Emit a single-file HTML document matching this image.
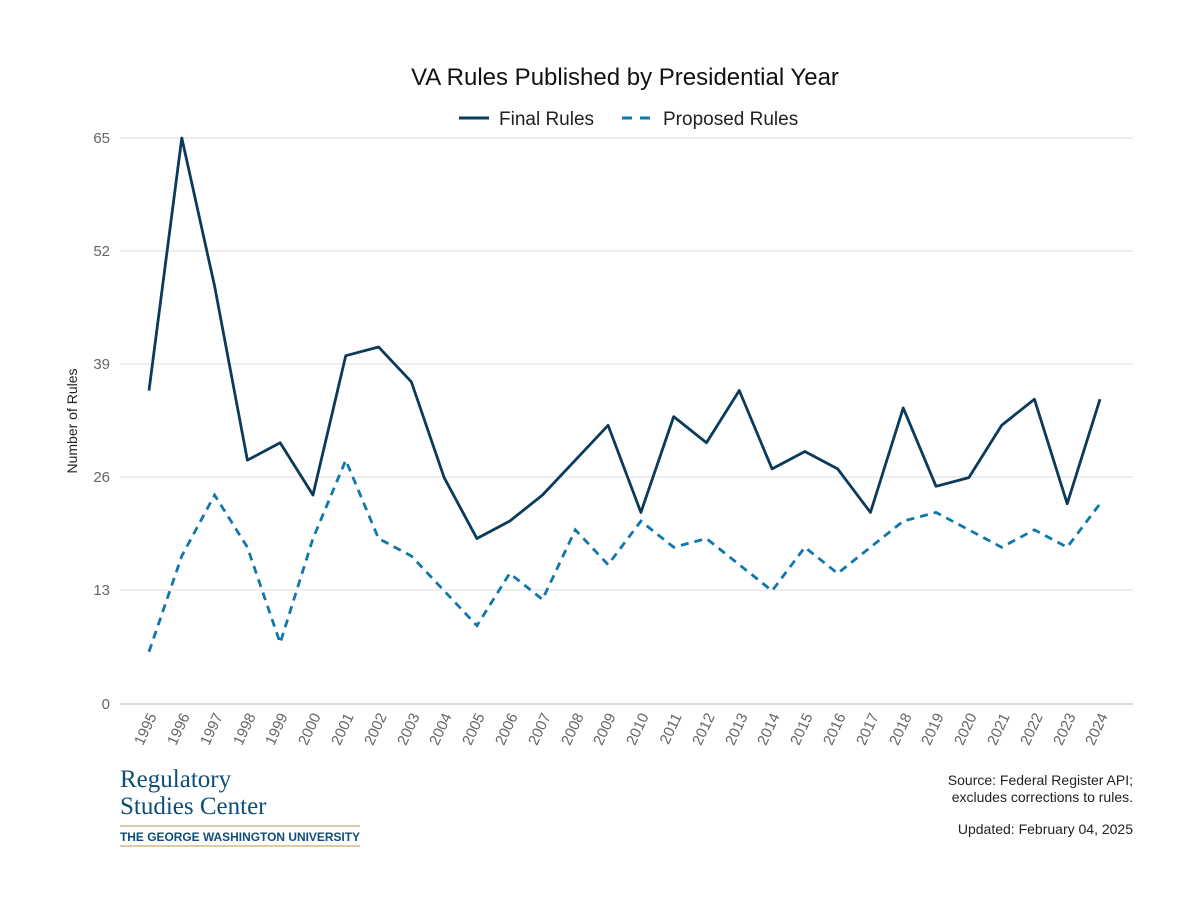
<!DOCTYPE html>
<html><head><meta charset="utf-8"><style>
body{margin:0;background:#fff;width:1200px;height:900px;overflow:hidden;font-family:"Liberation Sans",sans-serif}
</style></head><body>
<svg width="1200" height="900" xmlns="http://www.w3.org/2000/svg" font-family="Liberation Sans, sans-serif">
<text x="625" y="85" text-anchor="middle" font-size="24" fill="#111">VA Rules Published by Presidential Year</text>
<line x1="459" y1="118" x2="489" y2="118" stroke="#0b3a5b" stroke-width="3"/>
<text x="499" y="125" font-size="19" fill="#222">Final Rules</text>
<line x1="622" y1="118" x2="652" y2="118" stroke="#1077ad" stroke-width="3" stroke-dasharray="10,8"/>
<text x="663" y="125" font-size="19" fill="#222">Proposed Rules</text>
<g stroke="#dcdcdc" stroke-width="1">
<line x1="120" y1="138" x2="1133" y2="138"/><line x1="120" y1="251" x2="1133" y2="251"/>
<line x1="120" y1="364" x2="1133" y2="364"/><line x1="120" y1="477" x2="1133" y2="477"/>
<line x1="120" y1="590" x2="1133" y2="590"/><line x1="120" y1="704" x2="1133" y2="704" stroke-width="2"/>
</g>
<g font-size="15" fill="#666" text-anchor="end">
<text x="110" y="143">65</text><text x="110" y="256">52</text><text x="110" y="369">39</text>
<text x="110" y="482">26</text><text x="110" y="595">13</text><text x="110" y="709">0</text>
</g>
<text transform="translate(77,421) rotate(-90)" text-anchor="middle" font-size="14" fill="#222">Number of Rules</text>
<g transform="translate(149,704) scale(32.793,-8.708)" fill="none">
<polyline vector-effect="non-scaling-stroke" stroke="#0b3a5b" stroke-width="2.8" stroke-linejoin="round" points="0,36 1,65 2,48 3,28 4,30 5,24 6,40 7,41 8,37 9,26 10,19 11,21 12,24 13,28 14,32 15,22 16,33 17,30 18,36 19,27 20,29 21,27 22,22 23,34 24,25 25,26 26,32 27,35 28,23 29,35"/>
<polyline vector-effect="non-scaling-stroke" stroke="#1077ad" stroke-width="2.8" stroke-dasharray="8,6" points="0,6 1,17 2,24 3,18 4,7 5,19 6,28 7,19 8,17 9,13 10,9 11,15 12,12 13,20 14,16 15,21 16,18 17,19 18,16 19,13 20,18 21,15 22,18 23,21 24,22 25,20 26,18 27,20 28,18 29,23"/>
</g>
<g font-size="15" fill="#666" text-anchor="end">
<text transform="translate(157,716) rotate(-65)">1995</text>
<text transform="translate(190,716) rotate(-65)">1996</text>
<text transform="translate(223,716) rotate(-65)">1997</text>
<text transform="translate(256,716) rotate(-65)">1998</text>
<text transform="translate(288,716) rotate(-65)">1999</text>
<text transform="translate(321,716) rotate(-65)">2000</text>
<text transform="translate(354,716) rotate(-65)">2001</text>
<text transform="translate(387,716) rotate(-65)">2002</text>
<text transform="translate(420,716) rotate(-65)">2003</text>
<text transform="translate(452,716) rotate(-65)">2004</text>
<text transform="translate(485,716) rotate(-65)">2005</text>
<text transform="translate(518,716) rotate(-65)">2006</text>
<text transform="translate(551,716) rotate(-65)">2007</text>
<text transform="translate(584,716) rotate(-65)">2008</text>
<text transform="translate(616,716) rotate(-65)">2009</text>
<text transform="translate(649,716) rotate(-65)">2010</text>
<text transform="translate(682,716) rotate(-65)">2011</text>
<text transform="translate(715,716) rotate(-65)">2012</text>
<text transform="translate(748,716) rotate(-65)">2013</text>
<text transform="translate(780,716) rotate(-65)">2014</text>
<text transform="translate(813,716) rotate(-65)">2015</text>
<text transform="translate(846,716) rotate(-65)">2016</text>
<text transform="translate(879,716) rotate(-65)">2017</text>
<text transform="translate(912,716) rotate(-65)">2018</text>
<text transform="translate(944,716) rotate(-65)">2019</text>
<text transform="translate(977,716) rotate(-65)">2020</text>
<text transform="translate(1010,716) rotate(-65)">2021</text>
<text transform="translate(1043,716) rotate(-65)">2022</text>
<text transform="translate(1076,716) rotate(-65)">2023</text>
<text transform="translate(1108,716) rotate(-65)">2024</text>
</g>
<g font-family="Liberation Serif, serif" fill="#0e4d78" font-size="25">
<text x="120" y="787">Regulatory</text>
<text x="120" y="814">Studies Center</text>
</g>
<line x1="120" y1="826" x2="360" y2="826" stroke="#c9aa6e" stroke-width="1.3"/>
<text x="120" y="841" font-size="12.3" font-weight="bold" fill="#0e4d78" textLength="240" lengthAdjust="spacingAndGlyphs">THE GEORGE WASHINGTON UNIVERSITY</text>
<line x1="120" y1="846" x2="360" y2="846" stroke="#c9aa6e" stroke-width="1.3"/>
<g font-size="14" fill="#222" text-anchor="end">
<text x="1133" y="785">Source: Federal Register API;</text>
<text x="1133" y="802">excludes corrections to rules.</text>
<text x="1133" y="834">Updated: February 04, 2025</text>
</g>
</svg>
</body></html>
